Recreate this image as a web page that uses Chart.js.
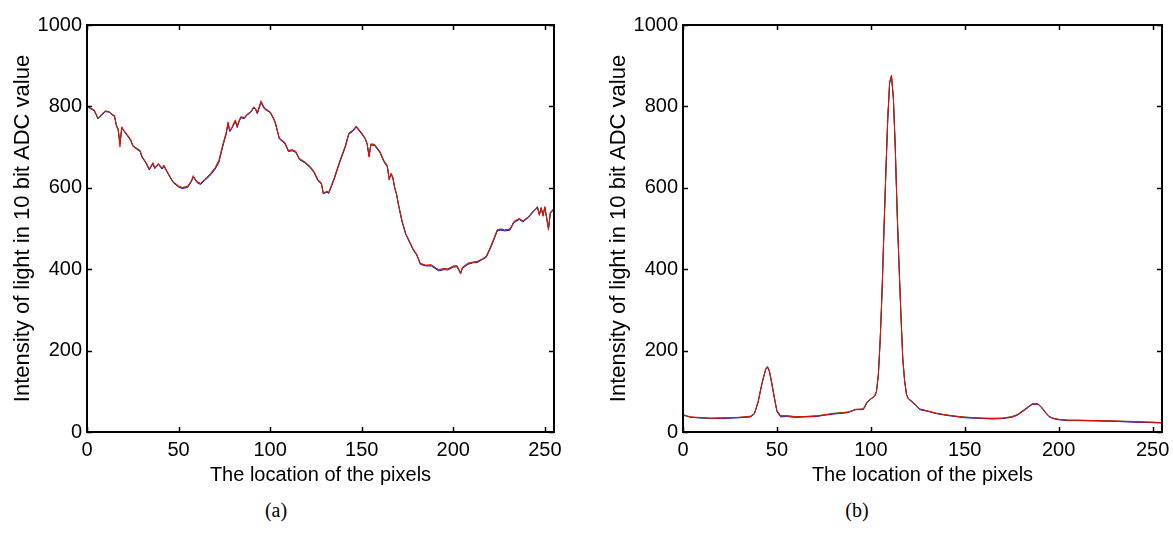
<!DOCTYPE html>
<html>
<head>
<meta charset="utf-8">
<script src="https://cdn.jsdelivr.net/npm/chart.js@4.4.1/dist/chart.umd.min.js"></script>
<style>
    body { margin: 0; background: #fff; }
    #page { position: relative; width: 1173px; height: 547px; overflow: hidden; }
    .wrap { position: absolute; top: 0; }
    .cap { position: absolute; top: 499px; width: 60px; text-align: center;
           font: 20px "Liberation Serif", "Times New Roman", serif; line-height: 22px; color: #000; }
</style>
</head>
<body>
<div id="page">
    <div class="wrap" style="left:0px"><canvas id="chartA" width="580" height="490"></canvas></div>
    <div class="wrap" style="left:596px"><canvas id="chartB" width="577" height="490"></canvas></div>
    <div class="cap" style="left:246px">(a)</div>
    <div class="cap" style="left:827px">(b)</div>
</div>
<script>
// (a) pixel locations and ADC values
const pixelsA = [0, 2, 4, 6, 7, 10, 12, 14, 15, 16, 17, 18, 19, 20, 22, 24, 25, 27, 29, 30,
    32, 34, 36, 37, 39, 41, 42, 44, 47, 50, 52, 55, 57, 58, 60, 62, 64, 67, 70, 72,
    74, 76, 77, 78, 79, 81, 82, 83, 84, 86, 87, 89, 90, 91, 92, 93, 95, 97, 100, 102,
    103, 105, 108, 110, 112, 114, 116, 119, 122, 124, 126, 128, 129, 131, 132, 135, 138, 141, 143, 145,
    147, 150, 152, 153, 154, 155, 157, 160, 162, 164, 165, 166, 167, 168, 169, 170, 172, 174, 176, 178,
    180, 182, 185, 188, 190, 192, 195, 197, 200, 202, 204, 205, 208, 211, 213, 216, 218, 220, 222, 224,
    226, 228, 231, 233, 236, 238, 241, 243, 245, 246, 247, 248, 249, 250, 252, 253, 255];
const redA = [801, 796, 791, 771, 776, 789, 787, 780, 778, 752, 742, 700, 750, 742, 731, 718, 702, 698, 692, 676,
    664, 645, 662, 648, 660, 648, 656, 637, 615, 605, 600, 604, 618, 630, 615, 611, 619, 631, 648, 664,
    701, 734, 762, 740, 748, 767, 750, 765, 775, 772, 779, 786, 791, 799, 795, 783, 814, 795, 787, 771,
    759, 721, 712, 692, 693, 690, 672, 664, 652, 640, 621, 612, 585, 592, 588, 623, 664, 701, 734, 740,
    752, 734, 721, 709, 675, 708, 707, 689, 668, 655, 619, 636, 627, 600, 586, 562, 520, 488, 470, 451,
    437, 414, 410, 411, 405, 398, 402, 400, 408, 408, 388, 405, 414, 418, 418, 426, 431, 450, 472, 496,
    498, 496, 498, 517, 525, 518, 529, 539, 549, 554, 532, 552, 530, 554, 496, 540, 550];
const greenA = [800, 795, 790, 769, 775, 788, 787, 779, 777, 755, 745, 712, 748, 741, 729, 716, 705, 697, 690, 678,
    663, 647, 660, 650, 658, 649, 654, 639, 614, 603, 601, 603, 616, 626, 616, 610, 620, 633, 650, 668,
    704, 736, 758, 742, 746, 764, 752, 763, 773, 773, 778, 785, 790, 797, 794, 786, 810, 796, 786, 769,
    757, 723, 710, 690, 694, 688, 670, 662, 650, 638, 620, 610, 588, 590, 589, 625, 666, 703, 735, 741,
    750, 735, 720, 707, 680, 706, 706, 687, 666, 652, 622, 634, 625, 602, 585, 560, 518, 487, 468, 449,
    436, 415, 409, 410, 404, 399, 401, 401, 407, 409, 392, 404, 415, 417, 419, 425, 432, 452, 474, 497,
    499, 497, 499, 515, 524, 519, 528, 540, 548, 552, 536, 550, 534, 552, 502, 538, 548];
const blueA = [799, 794, 789, 770, 774, 787, 786, 778, 776, 754, 744, 708, 747, 740, 728, 715, 703, 695, 689, 675,
    662, 644, 659, 647, 657, 646, 653, 636, 613, 602, 598, 601, 615, 627, 613, 608, 617, 629, 646, 662,
    699, 732, 757, 738, 745, 763, 748, 762, 772, 770, 777, 784, 789, 796, 793, 782, 809, 793, 785, 768,
    756, 720, 709, 689, 691, 687, 669, 661, 649, 637, 618, 609, 586, 589, 586, 621, 662, 699, 732, 738,
    749, 732, 719, 706, 678, 705, 704, 686, 665, 651, 621, 633, 624, 599, 584, 559, 517, 486, 467, 448,
    435, 412, 408, 408, 402, 396, 399, 398, 405, 406, 390, 402, 412, 416, 416, 424, 429, 448, 470, 494,
    496, 494, 496, 514, 522, 516, 527, 537, 547, 551, 534, 549, 532, 551, 500, 537, 547];

// (b) pixel locations and ADC values
const pixelsB = [0, 2, 4, 8, 14, 20, 25, 30, 36, 38, 40, 42, 44, 45, 46, 47, 49, 50, 52, 55,
    60, 65, 71, 75, 80, 85, 88, 92, 96, 98, 100, 102, 103, 104, 105, 106, 107, 108, 109, 110,
    111, 112, 113, 114, 115, 116, 117, 118, 119, 120, 122, 124, 126, 130, 135, 140, 145, 150, 155, 160,
    165, 170, 175, 178, 181, 184, 186, 189, 191, 193, 195, 197, 200, 205, 210, 220, 230, 240, 250, 255];
const redB = [42, 40, 37, 36, 34, 34, 35, 36, 38, 45, 75, 120, 155, 161, 150, 126, 75, 52, 39, 40,
    37, 38, 39, 42, 45, 47, 49, 56, 56, 74, 82, 88, 100, 140, 230, 350, 500, 640, 770, 860,
    877, 820, 700, 540, 410, 290, 180, 125, 92, 82, 75, 66, 56, 52, 46, 42, 39, 36, 35, 34,
    33, 34, 37, 42, 52, 62, 69, 69, 60, 48, 38, 34, 31, 29, 29, 28, 27, 25, 24, 23];
const greenB = [41, 39, 37, 35, 34, 35, 35, 36, 39, 46, 74, 118, 154, 160, 151, 128, 77, 53, 40, 40,
    38, 38, 40, 42, 46, 48, 49, 55, 57, 73, 81, 88, 101, 142, 228, 348, 498, 638, 768, 858,
    875, 822, 702, 542, 412, 292, 182, 126, 93, 82, 75, 66, 57, 52, 46, 42, 39, 37, 35, 34,
    34, 34, 38, 43, 53, 63, 70, 69, 61, 49, 38, 34, 31, 29, 29, 28, 27, 26, 24, 23];
const blueB = [43, 39, 36, 35, 33, 33, 34, 35, 37, 44, 73, 118, 153, 159, 148, 124, 74, 50, 37, 38,
    36, 37, 38, 41, 44, 46, 48, 55, 55, 72, 81, 87, 99, 139, 229, 349, 499, 639, 768, 857,
    873, 818, 699, 539, 409, 289, 179, 124, 91, 81, 73, 65, 55, 51, 45, 41, 38, 35, 34, 33,
    32, 33, 36, 41, 51, 61, 68, 68, 59, 47, 37, 33, 30, 28, 28, 27, 26, 24, 23, 22];

const xTicks = [0, 50, 100, 150, 200, 250];
const yTicks = [0, 200, 400, 600, 800, 1000];

const tickFont = { family: 'Liberation Sans', size: 20 };
const yTitleFont = { family: 'Liberation Sans', size: 22 };

// matlab style box with inward ticks on all four sides
const boxTicks = {
    id: 'boxTicks',
    afterDraw(chart) {
        const ctx = chart.ctx;
        const a = chart.chartArea;
        const sx = chart.scales.x;
        const sy = chart.scales.y;
        ctx.save();
        ctx.strokeStyle = '#000';
        ctx.lineWidth = 1.5;
        ctx.beginPath();
        sx.ticks.forEach((t) => {
            const px = Math.round(sx.getPixelForValue(t.value)) + 0.5;
            ctx.moveTo(px, a.bottom);
            ctx.lineTo(px, a.bottom - 5);
            ctx.moveTo(px, a.top);
            ctx.lineTo(px, a.top + 5);
        });
        sy.ticks.forEach((t) => {
            const py = Math.round(sy.getPixelForValue(t.value)) + 0.5;
            ctx.moveTo(a.left, py);
            ctx.lineTo(a.left + 5, py);
            ctx.moveTo(a.right, py);
            ctx.lineTo(a.right - 5, py);
        });
        ctx.stroke();
        ctx.lineWidth = 2;
        ctx.strokeRect(a.left, a.top, a.right - a.left, a.bottom - a.top);
        ctx.restore();
    },
};

function toPoints(xs, ys) {
    return xs.map((x, i) => ({ x: x, y: ys[i] }));
}

function profileChart(id, xs, red, green, blue, rightPad) {
    const cha = document.getElementById(id).getContext('2d');
    new Chart(cha, {
        type: 'line',
        data: {
            datasets: [
                { label: 'red', data: toPoints(xs, red), borderColor: '#ff0000' },
                { label: 'green', data: toPoints(xs, green), borderColor: '#008000' },
                { label: 'blue', data: toPoints(xs, blue), borderColor: '#0000ff' },
            ],
        },
        options: {
            responsive: false,
            animation: false,
            layout: { padding: { top: 25, left: 0, right: rightPad, bottom: 0 } },
            elements: {
                point: { radius: 0 },
                line: { borderWidth: 1, tension: 0 },
            },
            plugins: {
                legend: { display: false },
                tooltip: { enabled: false },
            },
            scales: {
                x: {
                    type: 'linear',
                    min: 0,
                    max: 255,
                    grid: { display: false, drawTicks: false },
                    border: { display: false },
                    afterBuildTicks: (s) => { s.ticks = xTicks.map((v) => ({ value: v })); },
                    afterFit: (s) => {
                        s.height = 58;
                        s.paddingLeft = 0;
                        s.paddingRight = 0;
                    },
                    ticks: { color: '#000', font: tickFont, padding: 6, maxRotation: 0,
                        callback: (v) => String(v) },
                    title: {
                        display: true,
                        text: 'The location of the pixels',
                        color: '#000',
                        font: tickFont,
                        padding: { top: 0, bottom: 3 },
                    },
                },
                y: {
                    min: 0,
                    max: 1000,
                    grid: { display: false, drawTicks: false },
                    border: { display: false },
                    afterBuildTicks: (s) => { s.ticks = yTicks.map((v) => ({ value: v })); },
                    afterFit: (s) => {
                        s.width = 87;
                        s.paddingTop = 0;
                        s.paddingBottom = 0;
                    },
                    ticks: { color: '#000', font: tickFont, padding: 5,
                        callback: (v) => String(v) },
                    title: {
                        display: true,
                        text: 'Intensity of light in 10 bit ADC value',
                        color: '#000',
                        font: yTitleFont,
                        padding: { top: 10, bottom: 0 },
                    },
                },
            },
        },
        plugins: [boxTicks],
    });
}

profileChart('chartA', pixelsA, redA, greenA, blueA, 26);
profileChart('chartB', pixelsB, redB, greenB, blueB, 11);
</script>
</body>
</html>
